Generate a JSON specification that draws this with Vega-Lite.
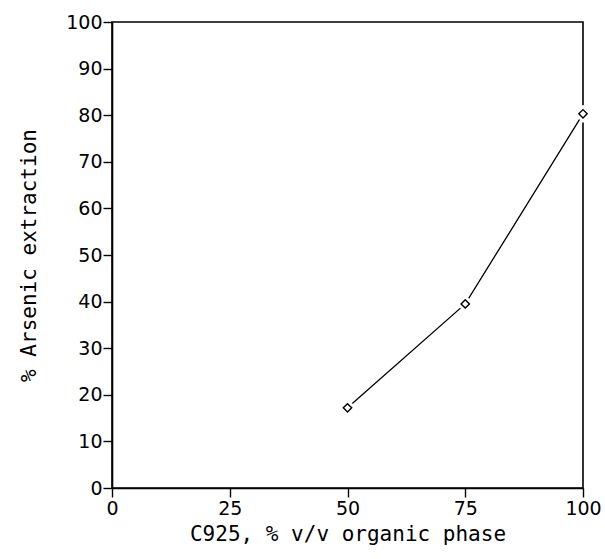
{
  "$schema": "https://vega.github.io/schema/vega-lite/v6.json",
  "autosize": "none",
  "padding": {"left": 112, "top": 22, "right": 22, "bottom": 71},
  "width": 471,
  "height": 466,
  "background": "white",
  "data": {"values": [
    {"c925": 50, "extraction": 17.2},
    {"c925": 75, "extraction": 39.5},
    {"c925": 100, "extraction": 80.3}
  ]},
  "config": {
    "view": {"stroke": "black", "strokeWidth": 1.6},
    "font": "DejaVu Sans",
    "axis": {
      "domainColor": "black", "domainWidth": 1.6,
      "tickColor": "black", "tickWidth": 1.4, "tickSize": 9,
      "labelColor": "black", "labelFont": "DejaVu Sans", "labelFontSize": 19,
      "titleColor": "black", "titleFont": "DejaVu Sans Mono", "titleFontSize": 21, "titleFontWeight": "normal",
      "grid": false
    }
  },
  "encoding": {
    "x": {"field": "c925", "type": "quantitative",
      "scale": {"domain": [0, 100], "nice": false, "zero": false},
      "axis": {"values": [0, 25, 50, 75, 100], "title": "C925, % v/v organic phase", "labelPadding": 2, "titlePadding": 5, "labelFlush": false}},
    "y": {"field": "extraction", "type": "quantitative",
      "scale": {"domain": [0, 100], "nice": false},
      "axis": {"values": [0, 10, 20, 30, 40, 50, 60, 70, 80, 90, 100], "title": "% Arsenic extraction", "labelPadding": 1, "titlePadding": 26, "labelFlush": false}}
  },
  "layer": [
    {"mark": {"type": "line", "color": "black", "strokeWidth": 1.3}},
    {"mark": {"type": "point", "shape": "diamond", "size": 70, "filled": true, "fill": "white", "stroke": "white", "strokeWidth": 7, "opacity": 1}},
    {"mark": {"type": "point", "shape": "diamond", "size": 70, "filled": false, "fill": "white", "fillOpacity": 1, "stroke": "black", "strokeWidth": 1.4, "opacity": 1}}
  ]
}
